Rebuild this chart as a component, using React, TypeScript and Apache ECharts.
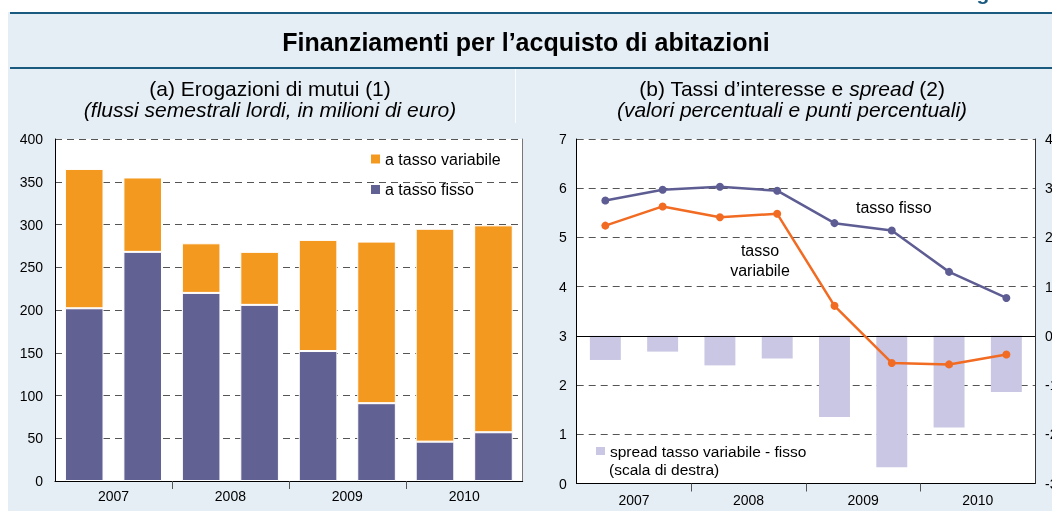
import React, { useEffect, useRef } from "react";
import * as echarts from "echarts";

const categories = ["2007 I", "2007 II", "2008 I", "2008 II", "2009 I", "2009 II", "2010 I", "2010 II"];
const years = ["2007", "2008", "2009", "2010"];
const fixedLoans = [202, 268, 220, 206, 152, 91, 46, 57];
const variableLoans = [163, 87, 58, 62, 130, 189, 249, 242];
const fixedRate = [5.75, 5.97, 6.03, 5.95, 5.29, 5.14, 4.3, 3.77];
const variableRate = [5.24, 5.63, 5.41, 5.48, 3.61, 2.45, 2.42, 2.62];
const spread = [-0.49, -0.32, -0.6, -0.46, -1.65, -2.67, -1.86, -1.14];

const FONT = "'Liberation Sans', Arial, Helvetica, sans-serif";
const PURPLE = "#626193";
const ORANGE = "#F4991F";
const LINE_PURPLE = "#5E5D93";
const LINE_ORANGE = "#F26B22";
const LAVENDER = "#C9C7E3";
const NAVY = "#1B5A7F";
const BG = "#E6EEF5";

export default function App() {
  const ref = useRef<HTMLDivElement>(null);
  useEffect(() => {
    if (!ref.current) return;
    const chart = echarts.init(ref.current, undefined, { renderer: "svg" });
    const gridLine = { show: true, lineStyle: { color: "#555", type: [7, 5], width: 1 } };
    const tickLabel = { fontSize: 14, color: "#000", fontFamily: FONT };
    const yearAxis = (gridIndex: number, margin: number) => ({
      type: "value",
      gridIndex,
      min: 0,
      max: 8,
      position: "bottom",
      axisLine: { show: false },
      axisTick: { show: true, customValues: [2, 4, 6], length: 8, lineStyle: { color: "#555" } },
      axisLabel: {
        ...tickLabel,
        customValues: [1, 3, 5, 7],
        margin,
        formatter: (v: number) => years[Math.round((v - 1) / 2)] ?? "",
      },
      splitLine: { show: false },
    });
    const catAxis = (gridIndex: number) => ({
      type: "category",
      gridIndex,
      data: categories,
      position: "bottom",
      axisLine: { onZero: false, lineStyle: { color: "#000", width: 1 } },
      axisTick: { show: false },
      axisLabel: { show: false },
      splitLine: { show: false },
    });
    const option: any = {
      animation: false,
      textStyle: { fontFamily: FONT },
      graphic: [
        { type: "rect", z: -10, shape: { x: 8, y: 12, width: 1044, height: 499 }, style: { fill: BG } },
        { type: "rect", z: -5, shape: { x: 10, y: 12, width: 1042, height: 2 }, style: { fill: NAVY } },
        { type: "rect", z: -5, shape: { x: 10, y: 67, width: 1042, height: 2 }, style: { fill: NAVY } },
        { type: "rect", z: -5, shape: { x: 515, y: 69, width: 1, height: 54 }, style: { fill: "rgba(255,255,255,0.8)" } },
        {
          type: "text",
          x: 983,
          y: -8,
          style: { text: "g", fontSize: 21, fontWeight: "bold", fontFamily: FONT, fill: NAVY, align: "center", verticalAlign: "middle" },
        },
        {
          type: "text",
          x: 526,
          y: 42,
          style: {
            text: "Finanziamenti per l’acquisto di abitazioni",
            fontSize: 25,
            fontWeight: "bold",
            fontFamily: FONT,
            fill: "#000",
            align: "center",
            verticalAlign: "middle",
          },
        },
        {
          type: "text",
          x: 270,
          y: 88,
          style: { text: "(a) Erogazioni di mutui (1)", fontSize: 21, fontFamily: FONT, fill: "#000", align: "center", verticalAlign: "middle" },
        },
        {
          type: "text",
          x: 270,
          y: 109,
          style: {
            text: "(flussi semestrali lordi, in milioni di euro)",
            fontSize: 21,
            fontStyle: "italic",
            fontFamily: FONT,
            fill: "#000",
            align: "center",
            verticalAlign: "middle",
          },
        },
        {
          type: "text",
          x: 792,
          y: 88,
          style: {
            text: "(b) Tassi d’interesse e {i|spread} (2)",
            fontSize: 21,
            fontFamily: FONT,
            fill: "#000",
            align: "center",
            verticalAlign: "middle",
            rich: { i: { fontSize: 21, fontStyle: "italic", fontFamily: FONT, fill: "#000" } },
          },
        },
        {
          type: "text",
          x: 792,
          y: 109,
          style: {
            text: "(valori percentuali e punti percentuali)",
            fontSize: 21,
            fontStyle: "italic",
            fontFamily: FONT,
            fill: "#000",
            align: "center",
            verticalAlign: "middle",
          },
        },
        {
          type: "text",
          z: 50,
          x: 856,
          y: 207,
          style: { text: "tasso fisso", fontSize: 16, fontFamily: FONT, fill: "#000", align: "left", verticalAlign: "middle" },
        },
        {
          type: "text",
          z: 50,
          x: 760,
          y: 260.5,
          style: {
            text: "tasso\nvariabile",
            fontSize: 16,
            lineHeight: 19.6,
            fontFamily: FONT,
            fill: "#000",
            align: "center",
            verticalAlign: "middle",
          },
        },
        {
          type: "text",
          z: 50,
          x: 609,
          y: 469,
          style: { text: "(scala di destra)", fontSize: 15.5, fontFamily: FONT, fill: "#000", align: "left", verticalAlign: "middle" },
        },
      ],
      grid: [
        { left: 55, top: 139, width: 467.7, height: 342, show: true, backgroundColor: "#fff", borderWidth: 0, outerBoundsMode: "none", containLabel: false },
        { left: 576.7, top: 139, width: 458.3, height: 344.5, show: true, backgroundColor: "#fff", borderWidth: 0, outerBoundsMode: "none", containLabel: false },
      ],
      xAxis: [catAxis(0), yearAxis(0, 8), catAxis(1), yearAxis(1, 9)],
      yAxis: [
        {
          type: "value",
          gridIndex: 0,
          min: 0,
          max: 400,
          interval: 50,
          position: "left",
          axisLine: { show: true, lineStyle: { color: "#000" } },
          axisTick: { show: false },
          axisLabel: { ...tickLabel, margin: 12 },
          splitLine: gridLine,
        },
        {
          type: "value",
          gridIndex: 0,
          min: 0,
          max: 400,
          interval: 50,
          position: "right",
          axisLine: { show: true, lineStyle: { color: "#777" } },
          axisTick: { show: false },
          axisLabel: { show: false },
          splitLine: { show: false },
        },
        {
          type: "value",
          gridIndex: 1,
          min: 0,
          max: 7,
          interval: 1,
          position: "left",
          axisLine: { show: true, lineStyle: { color: "#000" } },
          axisTick: { show: false },
          axisLabel: { ...tickLabel, margin: 10 },
          splitLine: gridLine,
        },
        {
          type: "value",
          gridIndex: 1,
          min: -3,
          max: 4,
          interval: 1,
          position: "right",
          axisLine: { show: true, lineStyle: { color: "#333" } },
          axisTick: { show: false },
          axisLabel: { ...tickLabel, margin: 10 },
          splitLine: { show: false },
        },
      ],
      legend: [
        {
          data: ["a tasso variabile", "a tasso fisso"],
          orient: "vertical",
          left: 371,
          top: 151,
          padding: 0,
          itemWidth: 9,
          itemHeight: 9,
          itemGap: 14.5,
          icon: "rect",
          selectedMode: false,
          itemStyle: { borderWidth: 0 },
          textStyle: { fontSize: 16, color: "#000", fontFamily: FONT },
        },
        {
          data: ["spread tasso variabile - fisso"],
          left: 596,
          top: 443,
          padding: 0,
          itemWidth: 9,
          itemHeight: 8,
          icon: "rect",
          selectedMode: false,
          itemStyle: { borderWidth: 0 },
          textStyle: { fontSize: 15.5, color: "#000", fontFamily: FONT },
        },
      ],
      series: [
        {
          name: "a tasso fisso",
          type: "bar",
          xAxisIndex: 0,
          yAxisIndex: 0,
          stack: "mutui",
          data: fixedLoans,
          barCategoryGap: "34%",
          itemStyle: { color: PURPLE, borderColor: "#fff", borderWidth: 1 },
        },
        {
          name: "a tasso variabile",
          type: "bar",
          xAxisIndex: 0,
          yAxisIndex: 0,
          stack: "mutui",
          data: variableLoans,
          barCategoryGap: "34%",
          itemStyle: { color: ORANGE, borderColor: "#fff", borderWidth: 1 },
        },
        {
          name: "spread tasso variabile - fisso",
          type: "bar",
          xAxisIndex: 2,
          yAxisIndex: 3,
          data: spread,
          barCategoryGap: "46%",
          itemStyle: { color: LAVENDER },
          markLine: {
            silent: true,
            symbol: ["none", "none"],
            label: { show: false },
            lineStyle: { color: "#000", type: "solid", width: 1 },
            data: [{ yAxis: 0 }],
          },
        },
        {
          name: "tasso fisso",
          type: "line",
          xAxisIndex: 2,
          yAxisIndex: 2,
          data: fixedRate,
          symbol: "circle",
          symbolSize: 8,
          z: 5,
          lineStyle: { color: LINE_PURPLE, width: 2.5 },
          itemStyle: { color: LINE_PURPLE },
        },
        {
          name: "tasso variabile",
          type: "line",
          xAxisIndex: 2,
          yAxisIndex: 2,
          data: variableRate,
          symbol: "circle",
          symbolSize: 8,
          z: 5,
          lineStyle: { color: LINE_ORANGE, width: 2.5 },
          itemStyle: { color: LINE_ORANGE },
        },
      ],
    };
    chart.setOption(option);
    return () => chart.dispose();
  }, []);
  return <div ref={ref} style={{ position: "fixed", left: 0, top: 0, width: 1052, height: 511 }} />;
}
